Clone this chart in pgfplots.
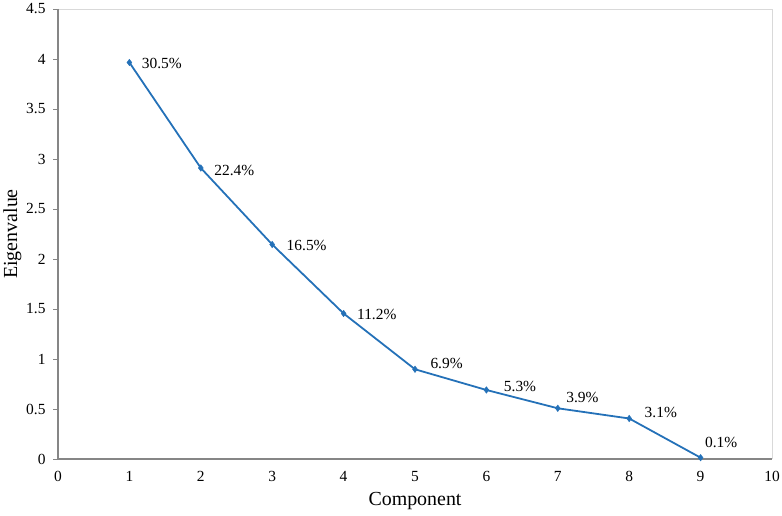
\documentclass[border=0pt]{standalone}
\usepackage{pgfplots}
\pgfplotsset{compat=1.18}
\usepackage{fontspec}
\setmainfont{Liberation Serif}
\definecolor{lineblue}{HTML}{2471B8}
\definecolor{axgray}{HTML}{868686}
\definecolor{frgray}{HTML}{D9D9D9}
\pgfplotstableread{
x y lab dx dy
1 3.965 30.5\% 9 -1
2 2.91 22.4\% 10 -2
3 2.145 16.5\% 11 -1
4 1.455 11.2\% 10 -1
5 0.897 6.9\% 12 6
6 0.69 5.3\% 14 4
7 0.507 3.9\% 5 11
8 0.405 3.1\% 12 6
9 0.013 0.1\% 1 15
}\eigtable
\begin{document}
\begin{tikzpicture}
\begin{axis}[
  scale only axis,
  width=714bp, height=450bp,
  xmin=0, xmax=10, ymin=0, ymax=4.5,
  xtick={0,1,...,10},
  ytick={0,0.5,...,4.5},
  ytick pos=left,
  xtick pos=bottom,
  axis line style={draw=none},
  tick align=outside,
  tick style={axgray, line width=0.8pt},
  xtick style={draw=none},
  major tick length=5bp,
  yticklabel style={font=\fontsize{15.5}{18}\selectfont, xshift=-4bp},
  xticklabel style={font=\fontsize{15.5}{18}\selectfont, yshift=-4bp},
  /pgf/number format/assume math mode=true,
  yticklabel={\pgfmathprintnumber[fixed,precision=1]{\tick}},
  xlabel={Component},
  ylabel={Eigenvalue},
  xlabel style={font=\fontsize{20}{24}\selectfont, yshift=-4bp},
  ylabel style={font=\fontsize{20}{24}\selectfont, yshift=-2bp},
  clip=false,
]
\draw[frgray, line width=0.8pt] (rel axis cs:0,1) -- (rel axis cs:1,1) -- (rel axis cs:1,0);
\draw[axgray, line width=1.1pt] (rel axis cs:0,1) -- (rel axis cs:0,0) -- (rel axis cs:1,0);
\addplot[lineblue, line width=1.8pt, mark=diamond*, mark size=3.3pt,
  mark options={fill=lineblue, draw=lineblue, line width=0.4pt},
  nodes near coords,
  point meta=explicit symbolic,
  visualization depends on={\thisrow{dx}\as\mydx},
  visualization depends on={\thisrow{dy}\as\mydy},
  every node near coord/.append style={font=\fontsize{15.5}{18}\selectfont, anchor=west, xshift=\mydx bp, yshift=\mydy bp, text=black},
] table[x=x, y=y, meta=lab] {\eigtable};
\coordinate (ll) at (rel axis cs:0,0);
\coordinate (ur) at (rel axis cs:1,1);
\end{axis}
\pgfresetboundingbox
\path ([shift={(-58bp,-57bp)}]ll) rectangle ([shift={(10bp,9bp)}]ur);
\end{tikzpicture}
\end{document}
